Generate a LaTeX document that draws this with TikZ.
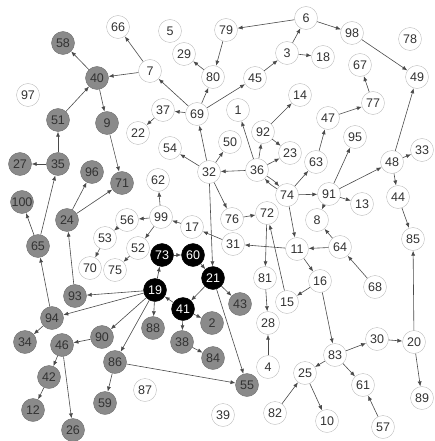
\documentclass[tikz,border=0pt]{standalone}
\usepackage{fontspec}
\setmainfont{Liberation Sans}
\usetikzlibrary{arrows.meta}

\definecolor{edgegray}{HTML}{4A4A4A}
\definecolor{ringgray}{HTML}{BDBDBD}
\definecolor{fillgray}{HTML}{8A8A8A}

\tikzset{
  vtx/.style={circle, minimum size=23pt, inner sep=0pt, font=\fontsize{12.5}{12.5}\selectfont},
  wn/.style={vtx, draw=ringgray, fill=white, text=black!80},
  gn/.style={vtx, draw=fillgray!80!black, fill=fillgray, text=black!80},
  bn/.style={vtx, draw=black, fill=black, text=white},
  ar/.style={draw=edgegray, line width=0.6pt, -{Latex[length=5pt,width=4pt]}}
}

\begin{document}
\begin{tikzpicture}[x=1pt,y=-1pt]
			\useasboundingbox (0,0) rectangle (435,441);
			% white vertices
			\foreach \n/\x/\y in {1/238/110, 3/287/53, 4/268/367, 5/170/31, 6/306/18,
			  7/150/71, 8/317/220, 10/327/421, 11/297/249, 13/362/204, 14/300/95,
			  15/287/302, 16/320/281, 17/192/227, 18/323/57, 20/414/342, 22/138/133,
			  23/290/153, 25/305/373, 28/268/323, 29/184/54, 30/377/339, 31/233/244,
			  32/209/172, 33/422/150, 36/257/170, 37/163/110, 39/223/415, 44/398/197,
			  45/255/78, 47/328/118, 48/392/162, 49/417/77, 50/230/142, 52/138/248,
			  53/105/238, 54/170/148, 56/127/220, 57/383/427, 61/363/385, 62/158/180,
			  63/316/162, 64/340/247, 66/118/27, 67/360/65, 68/375/287, 69/197/114,
			  70/90/268, 72/267/213, 74/287/195, 75/115/270, 76/232/219, 77/373/103,
			  78/410/39, 79/226/30, 80/213/77, 81/265/278, 82/275/413, 83/335/355,
			  85/413/239, 87/145/390, 89/422/398, 91/329/194, 92/263/132, 95/355/137,
			  97/28/95, 98/352/33, 99/161/217}
			  \node[wn] (n\n) at (\x,\y) {\n};
			% grey vertices
			\foreach \n/\x/\y in {2/212/323, 9/107/123, 12/33/410, 24/67/220, 26/73/430,
			  27/20/164, 34/25/342, 35/58/164, 38/182/342, 40/97/78, 42/49/377,
			  43/240/304, 46/62/345, 51/58/120, 55/247/385, 58/63/43, 59/105/403,
			  65/38/246, 71/122/183, 84/213/358, 86/115/362, 88/153/328, 90/102/337,
			  93/75/296, 94/52/318, 96/92/172, 100/22/202}
			  \node[gn] (n\n) at (\x,\y) {\n};
			% black vertices
			\foreach \n/\x/\y in {19/155/290, 21/213/278, 41/183/309, 60/193/255, 73/162/255}
			  \node[bn] (n\n) at (\x,\y) {\n};
			% directed edges
			\foreach \a/\b in {7/66, 7/40, 40/58, 40/9, 51/40, 35/51, 9/71, 35/27, 65/35,
			  65/100, 94/65, 24/96, 24/71, 93/24, 99/56, 99/62, 99/52, 56/53, 53/70,
			  52/75, 17/99, 31/17, 11/31, 19/73, 73/60, 60/21, 21/41, 21/43, 41/19,
			  41/2, 41/38, 38/84, 19/88, 19/93, 19/94, 19/90, 19/86, 94/34, 90/46,
			  46/42, 46/26, 42/12, 86/59, 86/55, 21/55, 32/21, 32/69, 69/7, 69/37,
			  69/80, 69/45, 37/22, 80/29, 79/80, 6/79, 3/6, 45/3, 3/18, 6/98, 98/49,
			  32/54, 32/50, 32/76, 36/32, 36/1, 36/92, 36/23, 92/23, 92/14, 74/63,
			  74/91, 74/11, 63/47, 47/77, 77/67, 91/95, 91/48, 91/13, 91/8, 48/33,
			  48/44, 44/85, 20/85, 48/49, 76/72, 72/81, 81/28, 15/72, 64/11, 64/8,
			  68/64, 11/16, 16/15, 16/83, 4/28, 83/30, 30/20, 83/25, 83/61, 20/89,
			  57/61, 25/10, 82/25}
			  \draw[ar] (n\a) -- (n\b);
			\draw[ar] (n36) to[bend left=8] (n74);
			\draw[ar] (n74) to[bend left=8] (n36);
			\end{tikzpicture}
\end{document}
